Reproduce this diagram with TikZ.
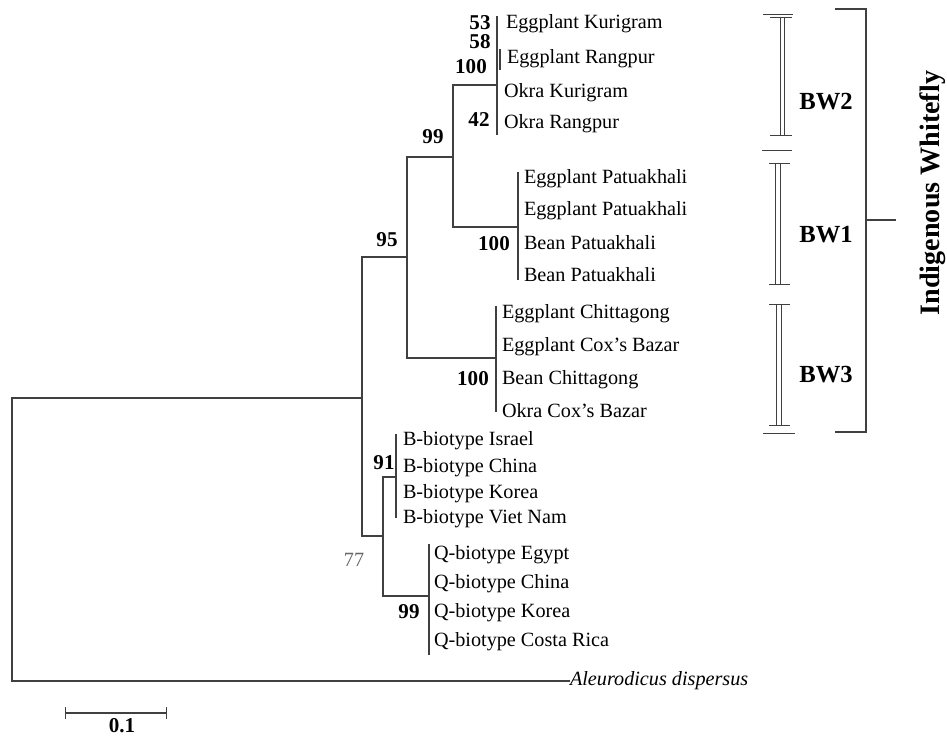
\documentclass[tikz,border=0pt]{standalone}
\usepackage{fontspec}
\setmainfont{Liberation Serif}
\begin{document}
\begin{tikzpicture}
[x=0.02cm,y=-0.02cm,
 every node/.style={inner sep=0mm,outer sep=0mm,font=\fontsize{11.5}{13}\selectfont},
 tip/.style={anchor=west},
 bs/.style={font=\fontsize{12}{13}\selectfont\bfseries},
 grp/.style={font=\fontsize{14}{16}\selectfont\bfseries},
 br/.style={draw=black!75,line width=0.7pt}]
\useasboundingbox (0,0) rectangle (947,736);
% internal nodes
\coordinate (root) at (12,540);
\coordinate (nA)   at (362,398);
\coordinate (n95)  at (407,257);
\coordinate (n99)  at (453,157);
\coordinate (n77)  at (383,536);
\coordinate (bw2)  at (497,85);  \coordinate (bw2t) at (497,16);  \coordinate (bw2b) at (497,135);
\coordinate (bw2s) at (500,49);  \coordinate (bw2e) at (500,70);
\coordinate (bw1)  at (518,227); \coordinate (bw1t) at (518,172); \coordinate (bw1b) at (518,280);
\coordinate (bw3)  at (496,358); \coordinate (bw3t) at (496,306); \coordinate (bw3b) at (496,412);
\coordinate (bb)   at (396,477); \coordinate (bbt)  at (396,434); \coordinate (bbb)  at (396,518);
\coordinate (qb)   at (429,596); \coordinate (qbt)  at (429,544); \coordinate (qbb)  at (429,655);
% tips
\node[tip] (bw2A) at (506,24)  {Eggplant Kurigram};
\node[tip] (bw2B) at (507,59)  {Eggplant Rangpur};
\node[tip] (bw2C) at (504,93)  {Okra Kurigram};
\node[tip] (bw2D) at (504,124) {Okra Rangpur};
\node[tip] (bw1A) at (524,179) {Eggplant Patuakhali};
\node[tip] (bw1B) at (524,211) {Eggplant Patuakhali};
\node[tip] (bw1C) at (524,243) {Bean Patuakhali};
\node[tip] (bw1D) at (524,275) {Bean Patuakhali};
\node[tip] (bw3A) at (502,314) {Eggplant Chittagong};
\node[tip] (bw3B) at (502,347) {Eggplant Cox's Bazar};
\node[tip] (bw3C) at (502,380) {Bean Chittagong};
\node[tip] (bw3D) at (502,411) {Okra Cox's Bazar};
\node[tip] (bbA)  at (403,441) {B-biotype Israel};
\node[tip] (bbB)  at (403,468) {B-biotype China};
\node[tip] (bbC)  at (403,494) {B-biotype Korea};
\node[tip] (bbD)  at (403,519) {B-biotype Viet Nam};
\node[tip] (qbA)  at (434,555) {Q-biotype Egypt};
\node[tip] (qbB)  at (434,584) {Q-biotype China};
\node[tip] (qbC)  at (434,613) {Q-biotype Korea};
\node[tip] (qbD)  at (434,642) {Q-biotype Costa Rica};
\node[tip] (out)  at (570,681) {\itshape Aleurodicus dispersus};
% branches
\draw[br] (root) |- (nA);
\draw[br] (root) |- (out.west);
\draw[br] (nA) |- (n95);
\draw[br] (nA) |- (n77);
\draw[br] (n95) |- (n99);
\draw[br] (n95) |- (bw3);
\draw[br] (n99) |- (bw2);
\draw[br] (n99) |- (bw1);
\draw[br] (n77) |- (bb);
\draw[br] (n77) |- (qb);
\draw[br] (bw2t) -- (bw2b);
\draw[br] (bw2s) -- (bw2e);
\draw[br] (bw1t) -- (bw1b);
\draw[br] (bw3t) -- (bw3b);
\draw[br] (bbt) -- (bbb);
\draw[br] (qbt) -- (qbb);
% bootstrap values
\node[bs] (bs53)  at (480,23)  {53};
\node[bs] (bs58)  at (480,42)  {58};
\node[bs] (bs100a) at (471,67) {100};
\node[bs] (bs42)  at (479,120) {42};
\node[bs] (bs99a) at (433,137) {99};
\node[bs] (bs95)  at (387,240) {95};
\node[bs] (bs100b) at (494,244) {100};
\node[bs] (bs100c) at (473,379) {100};
\node[bs] (bs91)  at (384,463) {91};
\node[text=black!60] (bs77) at (354,560) {77};
\node[bs] (bs99b) at (409,612) {99};
% scale bar
\coordinate (sc0) at (65,713);
\coordinate (sc1) at (167,713);
\draw[br,|-|] (sc0) -- (sc1);
\node[bs] (sclab) at (122,726) {0.1};
% groups
\draw[br,line width=0.5pt] (763,14) -- (793,14);
\draw[br,line width=0.5pt] (770,17) -- (792,17) (770,135) -- (792,135);
\draw[br,line width=0.5pt] (780,17) -- (780,135) (784,17) -- (784,135);
\draw[br,line width=0.5pt] (762,150) -- (792,150);
\draw[br,line width=0.5pt] (769,163) -- (790,163) (769,284) -- (790,284);
\draw[br,line width=0.5pt] (775,163) -- (775,284) (780,163) -- (780,284);
\draw[br,line width=0.5pt] (769,304) -- (790,304) (769,425) -- (790,425);
\draw[br,line width=0.5pt] (776,304) -- (776,425) (781,304) -- (781,425);
\draw[br,line width=0.5pt] (763,433) -- (795,433);
\node[grp] (g2) at (826,102) {BW2};
\node[grp] (g1) at (826,235) {BW1};
\node[grp] (g3) at (826,375) {BW3};
\draw[br] (835,9) -- (866,9) -- (866,432) -- (835,432);
\draw[br] (866,220) -- (896,220);
\node[font=\fontsize{16}{18}\selectfont\bfseries,rotate=90] (ind) at (933,193) {Indigenous Whitefly};
\end{tikzpicture}
\end{document}
